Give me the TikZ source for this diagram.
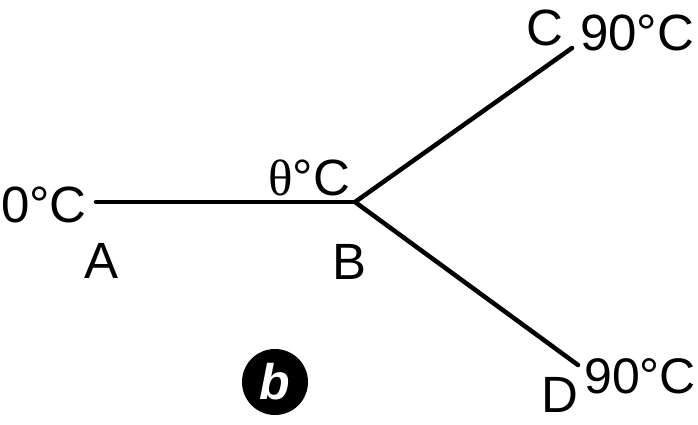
\documentclass[tikz,border=0pt]{standalone}
\usepackage{fontspec}
\setmainfont{Liberation Sans}
\newfontfamily\serifth{Liberation Serif}
\begin{document}
\begin{tikzpicture}[x=1pt,y=-1pt,
  lbl/.style={inner sep=0pt,anchor=base west,font=\fontsize{51}{56}\selectfont},
  rod/.style={line width=4.5pt,line cap=round}]
\useasboundingbox (0,0) rectangle (698,424);
\coordinate (A) at (96,202);
\coordinate (B) at (355,202);
\coordinate (C) at (572,48);
\coordinate (D) at (578,365);
\draw[rod] (A) -- (B);
\draw[rod] (B) -- (C);
\draw[rod] (B) -- (D);
\node[lbl] (tA) at (1,222) {0°C};
\node[lbl] (lA) at (84,278) {A};
\node[lbl] (tB) at (268,195) {{\serifth θ}°C};
\node[lbl] (lB) at (332,279) {B};
\node[lbl] (lC) at (526,45) {C};
\node[lbl] (tC) at (580,50) {90°C};
\node[lbl] (lD) at (541,412) {D};
\node[lbl,font=\fontsize{50}{56}\selectfont] (tD) at (584,393) {90°C};
\node[circle,fill=black,minimum size=66pt,inner sep=0pt,text=white,
  font=\fontsize{50}{50}\selectfont\bfseries\itshape] (tag) at (275,382) {b};
\end{tikzpicture}
\end{document}
